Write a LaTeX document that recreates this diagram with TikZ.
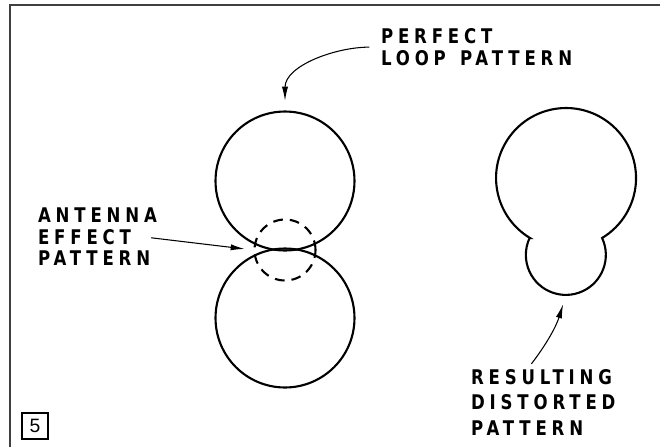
\documentclass[tikz,border=0pt]{standalone}
\usepackage{fontspec}
\setsansfont{Liberation Sans}
\newfontfamily\lettering[FakeStretch=0.82,LetterSpace=24]{DejaVu Sans}
\usetikzlibrary{arrows.meta}

\begin{document}
\begin{tikzpicture}[x=0.02cm,y=-0.02cm,line width=1.2pt,
   lobe/.style={draw,shape=circle,minimum size=2.78cm,inner sep=0pt},
   effect/.style={draw,shape=circle,dash pattern=on 5.5pt off 4pt,minimum size=1.22cm,inner sep=0pt},
   caption/.style={align=left,anchor=north west,inner sep=0pt},
   pointer/.style={line width=.6pt,-{Latex[length=8pt,width=3.5pt]}}]

   \useasboundingbox (0,0) rectangle (660,447);
   \draw[line width=1.1pt,black!75] (10,447) -- (10,5) -- (660,5);

      \path (285,181) node[lobe] (upper) {};
      \path (285,318) node[lobe] (lower) {};
      \path (285,250) node[effect] (antenna) {};

      % distorted pattern
      \draw (530,238) arc[start angle=239,end angle=-59,radius=1.4cm]
         arc[start angle=25,end angle=-205,radius=0.8cm] -- cycle;
      \coordinate (distorted) at (566,295);

      \path (380,27) node[caption,font=\lettering\bfseries\fontsize{11.5}{13}\selectfont] (perfect)
         {PERFECT\\LOOP\hspace{0.7em}PATTERN};
      \path (37,207) node[caption,font=\lettering\bfseries\fontsize{11.5}{12.2}\selectfont] (antlabel)
         {ANTENNA\\EFFECT\\PATTERN};
      \path (470,368) node[caption,font=\lettering\bfseries\fontsize{11.5}{14.7}\selectfont] (result)
         {RESULTING\\DISTORTED\\PATTERN};
      \path (35,426) node[draw,line width=1.2pt,minimum size=0.52cm,inner sep=0pt,
         font=\sffamily\fontsize{11}{13}\selectfont] (fig) {5};

      \draw[pointer,shorten <=6pt,shorten >=5.5pt] (perfect.west) to[out=180,in=90] (upper.north);
      \draw[pointer,shorten <=-4pt,shorten >=5pt] ([yshift=-1pt]antlabel.east) -- (antenna.west);
      \draw[pointer,shorten <=3pt,shorten >=5.5pt] ([xshift=-0.3cm]result.north) to[bend right=10] (distorted);

   \end{tikzpicture}
\end{document}
